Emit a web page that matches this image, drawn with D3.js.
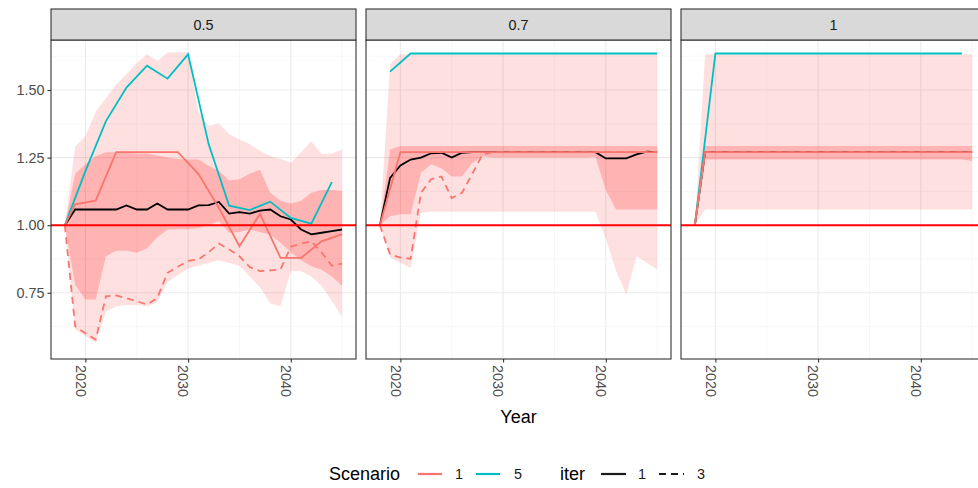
<!DOCTYPE html>
<html><head><meta charset="utf-8">
<script src="https://cdn.jsdelivr.net/npm/d3@7"></script>
<style>body{margin:0;background:#fff;}svg{display:block;font-family:"Liberation Sans",Arial,sans-serif;}</style>
</head><body><svg id="chart" width="978" height="488"></svg>
<script>
// ---------- data ----------
const years = [2018,2019,2020,2021,2022,2023,2024,2025,2026,2027,2028,2029,2030,2031,2032,2033,2034,2035,2036,2037,2038,2039,2040,2041,2042,2043,2044,2045];
const facets = ["0.5","0.7","1"];
const xTickVals = [2020,2030,2040];
const xTickLabels = ["2020","2030","2040"];
const yTickVals = [0.75,1.00,1.25,1.50];
const yTickLabels = ["0.75","1.00","1.25","1.50"];
const scenarios = ["1","5"];
const iters = ["1","3"];

// facet 0.5
const p05_black   = [1.0,1.058,1.058,1.058,1.058,1.058,1.073,1.058,1.058,1.08,1.058,1.058,1.058,1.073,1.074,1.086,1.043,1.048,1.043,1.054,1.058,1.033,1.021,0.984,0.966,0.972,0.978,0.984];
const p05_s5_it1  = [1.0,null,1.20,null,1.385,null,1.509,null,1.59,null,1.542,null,1.632,null,1.30,null,1.072,null,1.056,null,1.087,null,1.027,null,1.006,null,1.159,null];
const p05_s1_it1  = [1.0,1.077,null,1.091,null,1.27,null,1.27,null,1.27,null,1.27,null,1.19,null,1.064,null,0.922,null,1.042,null,0.879,null,0.879,null,0.94,null,0.967];
const p05_s1_it3  = [1.0,0.626,0.60,0.577,0.737,0.74,0.73,0.719,0.706,0.731,0.824,0.846,0.868,0.873,0.90,0.932,0.91,0.885,0.845,0.83,0.833,0.836,0.92,0.932,0.94,0.90,0.85,0.858];
const p05_outerHi = [1.0,1.29,1.33,1.42,1.47,1.52,1.558,1.60,1.632,1.607,1.638,1.64,1.64,1.42,1.367,1.377,1.336,1.317,1.30,1.274,1.256,1.245,1.231,1.27,1.311,1.262,1.265,1.28];
const p05_outerLo = [1.0,0.614,0.59,0.565,0.68,0.70,0.705,0.705,0.70,0.715,0.79,0.815,0.84,0.85,0.86,0.87,0.86,0.85,0.81,0.77,0.71,0.70,0.83,0.83,0.81,0.775,0.72,0.66];
const p05_innerHi = [1.0,1.19,1.225,1.255,1.27,1.27,1.268,1.265,1.265,1.258,1.25,1.245,1.243,1.243,1.22,1.20,1.165,1.17,1.19,1.205,1.12,1.09,1.08,1.09,1.12,1.13,1.13,1.126];
const p05_innerLo = [1.0,0.78,0.725,0.725,0.885,0.905,0.905,0.898,0.915,0.955,0.984,0.985,0.985,0.99,1.0,1.015,0.972,0.975,0.984,0.975,0.965,0.935,0.90,0.87,0.848,0.835,0.81,0.776];

// facet 0.7
const p07_black   = [1.0,1.175,1.221,1.243,1.25,1.266,1.268,1.25,1.268,1.27,1.27,1.27,1.27,1.27,1.27,1.27,1.27,1.27,1.27,1.27,1.27,1.27,1.247,1.247,1.247,1.262,1.272,1.27];
const p07_s5_it1  = [null,1.568,null,1.635,null,1.635,null,1.635,null,1.635,null,1.635,null,1.635,null,1.635,null,1.635,null,1.635,null,1.635,null,1.635,null,1.635,null,1.635];
const p07_s1_it1  = [1.0,null,1.27,1.27,1.27,1.27,1.27,1.27,1.27,1.27,1.27,1.27,1.27,1.27,1.27,1.27,1.27,1.27,1.27,1.27,1.27,1.27,1.27,1.27,1.27,1.27,1.27,1.27];
const p07_s1_it3  = [1.0,0.891,0.88,0.876,1.12,1.17,1.18,1.10,1.12,1.19,1.262,1.27,1.27,1.27,1.27,1.27,1.27,1.27,1.27,1.27,1.27,1.27,1.27,1.27,1.27,1.27,1.27,1.27];
const p07_outerHi = [1.0,1.595,1.632,1.632,1.632,1.632,1.632,1.632,1.632,1.632,1.632,1.632,1.632,1.632,1.632,1.632,1.632,1.632,1.632,1.632,1.632,1.632,1.632,1.632,1.632,1.632,1.632,1.632];
const p07_outerLo = [1.0,0.88,0.861,0.842,1.046,1.05,1.05,1.05,1.05,1.05,1.05,1.05,1.05,1.05,1.05,1.05,1.05,1.05,1.05,1.05,1.05,1.05,0.95,0.83,0.743,0.885,0.86,0.836];
const p07_innerHi = [1.0,1.28,1.293,1.293,1.293,1.293,1.293,1.293,1.293,1.293,1.293,1.293,1.293,1.293,1.293,1.293,1.293,1.293,1.293,1.293,1.293,1.293,1.293,1.293,1.293,1.293,1.293,1.293];
const p07_innerLo = [1.0,1.033,1.04,1.04,1.194,1.225,1.21,1.18,1.18,1.23,1.255,1.25,1.25,1.25,1.25,1.25,1.25,1.25,1.25,1.25,1.25,1.252,1.13,1.058,1.058,1.058,1.058,1.058];

// facet 1
const p1_black   = [1.0,1.27,1.27,1.27,1.27,1.27,1.27,1.27,1.27,1.27,1.27,1.27,1.27,1.27,1.27,1.27,1.27,1.27,1.27,1.27,1.27,1.27,1.27,1.27,1.27,1.27,1.27,1.27];
const p1_s5_it1  = [1.0,null,1.635,null,1.635,null,1.635,null,1.635,null,1.635,null,1.635,null,1.635,null,1.635,null,1.635,null,1.635,null,1.635,null,1.635,null,1.635,null];
const p1_s1_it1  = [1.0,1.27,1.27,1.27,1.27,1.27,1.27,1.27,1.27,1.27,1.27,1.27,1.27,1.27,1.27,1.27,1.27,1.27,1.27,1.27,1.27,1.27,1.27,1.27,1.27,1.27,1.27,1.27];
const p1_s1_it3  = [1.0,1.27,1.27,1.27,1.27,1.27,1.27,1.27,1.27,1.27,1.27,1.27,1.27,1.27,1.27,1.27,1.27,1.27,1.27,1.27,1.27,1.27,1.27,1.27,1.27,1.27,1.27,1.27];
const p1_outerHi = [1.0,1.632,1.632,1.632,1.632,1.632,1.632,1.632,1.632,1.632,1.632,1.632,1.632,1.632,1.632,1.632,1.632,1.632,1.632,1.632,1.632,1.632,1.632,1.632,1.632,1.632,1.632,1.632];
const p1_outerLo = [1.0,1.058,1.058,1.058,1.058,1.058,1.058,1.058,1.058,1.058,1.058,1.058,1.058,1.058,1.058,1.058,1.058,1.058,1.058,1.058,1.058,1.058,1.058,1.058,1.058,1.058,1.058,1.058];
const p1_innerHi = [1.0,1.293,1.293,1.293,1.293,1.293,1.293,1.293,1.293,1.293,1.293,1.293,1.293,1.293,1.293,1.293,1.293,1.293,1.293,1.293,1.293,1.293,1.293,1.293,1.293,1.293,1.293,1.293];
const p1_innerLo = [1.0,1.243,1.243,1.243,1.243,1.243,1.243,1.243,1.243,1.243,1.243,1.243,1.243,1.243,1.243,1.243,1.243,1.243,1.243,1.243,1.243,1.243,1.243,1.243,1.243,1.243,1.243,1.237];

const refValue = 1.0;

// ---------- assemble ----------
const panelData = [
  {black:p05_black, s5:p05_s5_it1, s1:p05_s1_it1, s1d:p05_s1_it3, oHi:p05_outerHi, oLo:p05_outerLo, iHi:p05_innerHi, iLo:p05_innerLo},
  {black:p07_black, s5:p07_s5_it1, s1:p07_s1_it1, s1d:p07_s1_it3, oHi:p07_outerHi, oLo:p07_outerLo, iHi:p07_innerHi, iLo:p07_innerLo},
  {black:p1_black,  s5:p1_s5_it1,  s1:p1_s1_it1,  s1d:p1_s1_it3,  oHi:p1_outerHi,  oLo:p1_outerLo,  iHi:p1_innerHi,  iLo:p1_innerLo}
];

const colS1 = "#F8766D", colS5 = "#00BFC4";
const svg = d3.select("#chart");
const panelLefts = [51, 366, 681];
const panelW = 305, panelTop = 40, panelBot = 359, stripTop = 9;

const x = d3.scaleLinear().domain([2016.65, 2046.35]).range([0, panelW]);
const y = d3.scaleLinear().domain([0.505, 1.685]).range([panelBot, panelTop]);
const xMinor = [2015,2025,2035,2045];
const yMinor = [0.625,0.875,1.125,1.375,1.625];

const pts = vals => years.map((yr,i)=>[yr, vals[i]]).filter(d=>d[1]!=null);
const line = d3.line().x(d=>x(d[0])).y(d=>y(d[1]));
const area = (lo,hi) => d3.area().x(d=>x(d.yr)).y0(d=>y(d.lo)).y1(d=>y(d.hi))(years.map((yr,i)=>({yr, lo:lo[i], hi:hi[i]})));

const defs = svg.append("defs");

facets.forEach((f, k) => {
  const d = panelData[k];
  const g = svg.append("g").attr("transform", `translate(${panelLefts[k]},0)`);
  defs.append("clipPath").attr("id","clip"+k).append("rect")
    .attr("x",0).attr("y",panelTop).attr("width",panelW).attr("height",panelBot-panelTop);
  const body = g.append("g").attr("clip-path", `url(#clip${k})`);
  body.append("rect").attr("x",0).attr("y",panelTop).attr("width",panelW).attr("height",panelBot-panelTop).attr("fill","#fff");
  // minor grid
  xMinor.forEach(v => body.append("line").attr("x1",x(v)).attr("x2",x(v)).attr("y1",panelTop).attr("y2",panelBot).attr("stroke","#F2F2F2").attr("stroke-width",0.6));
  yMinor.forEach(v => body.append("line").attr("x1",0).attr("x2",panelW).attr("y1",y(v)).attr("y2",y(v)).attr("stroke","#F2F2F2").attr("stroke-width",0.6));
  // major grid
  xTickVals.forEach(v => body.append("line").attr("x1",x(v)).attr("x2",x(v)).attr("y1",panelTop).attr("y2",panelBot).attr("stroke","#EBEBEB").attr("stroke-width",1.1));
  yTickVals.forEach(v => body.append("line").attr("x1",0).attr("x2",panelW).attr("y1",y(v)).attr("y2",y(v)).attr("stroke","#EBEBEB").attr("stroke-width",1.1));
  // ribbons
  body.append("path").attr("d", area(d.oLo, d.oHi)).attr("fill","#FF0000").attr("fill-opacity",0.12);
  body.append("path").attr("d", area(d.iLo, d.iHi)).attr("fill","#FF0000").attr("fill-opacity",0.2);
  // lines
  body.append("path").attr("d", line(pts(d.black))).attr("fill","none").attr("stroke","#000").attr("stroke-width",1.8);
  body.append("path").attr("d", line(pts(d.s5))).attr("fill","none").attr("stroke",colS5).attr("stroke-width",1.8);
  body.append("path").attr("d", line(pts(d.s1d))).attr("fill","none").attr("stroke",colS1).attr("stroke-width",1.8).attr("stroke-dasharray","7,5");
  body.append("path").attr("d", line(pts(d.s1))).attr("fill","none").attr("stroke",colS1).attr("stroke-width",1.8);
  // reference line
  body.append("line").attr("x1",0).attr("x2",panelW).attr("y1",y(refValue)).attr("y2",y(refValue)).attr("stroke","#FF0000").attr("stroke-width",2);
  // border
  g.append("rect").attr("x",0).attr("y",panelTop).attr("width",panelW).attr("height",panelBot-panelTop).attr("fill","none").attr("stroke","#333").attr("stroke-width",1.1);
  // strip
  g.append("rect").attr("x",0).attr("y",stripTop).attr("width",panelW).attr("height",panelTop-stripTop).attr("fill","#D9D9D9").attr("stroke","#333").attr("stroke-width",1.1);
  g.append("text").attr("x",panelW/2).attr("y",(stripTop+panelTop)/2).attr("dy","0.36em").attr("text-anchor","middle")
    .attr("font-size",14.4).attr("fill","#1A1A1A").text(f);
  // x axis
  const xa = d3.axisBottom(x).tickValues(xTickVals).tickFormat((v,i)=>xTickLabels[i]).tickSize(3.5).tickPadding(2);
  const ga = g.append("g").attr("transform",`translate(0,${panelBot})`).call(xa);
  ga.select(".domain").remove();
  ga.selectAll(".tick line").attr("stroke","#333").attr("stroke-width",1.1);
  ga.selectAll(".tick text").attr("font-size",14.4).attr("fill","#4D4D4D").attr("font-family","Liberation Sans, Arial, sans-serif")
    .attr("text-anchor","start").attr("transform","rotate(90)").attr("x",6).attr("y",0).attr("dy","0.72em");
});

// y axis (left panel only)
const ya = d3.axisLeft(y).tickValues(yTickVals).tickFormat((v,i)=>yTickLabels[i]).tickSize(3.5).tickPadding(3);
const gy = svg.append("g").attr("transform",`translate(${panelLefts[0]},0)`).call(ya);
gy.select(".domain").remove();
gy.selectAll(".tick line").attr("stroke","#333").attr("stroke-width",1.1);
gy.selectAll(".tick text").attr("font-size",14.4).attr("fill","#4D4D4D").attr("font-family","Liberation Sans, Arial, sans-serif");

// axis title
svg.append("text").attr("x",518.5).attr("y",423).attr("text-anchor","middle").attr("font-size",18).attr("fill","#000").text("Year");

// legend
const ly = 474;
const leg = svg.append("g");
leg.append("text").attr("x",329).attr("y",ly).attr("dy","0.36em").attr("font-size",18).text("Scenario");
const sKeys = [{x1:418, tx:455, c:colS1, lab:scenarios[0]}, {x1:476, tx:514, c:colS5, lab:scenarios[1]}];
sKeys.forEach(k => {
  leg.append("line").attr("x1",k.x1).attr("x2",k.x1+24).attr("y1",ly).attr("y2",ly).attr("stroke",k.c).attr("stroke-width",2.2);
  leg.append("text").attr("x",k.tx).attr("y",ly).attr("dy","0.36em").attr("font-size",14.4).attr("fill","#1A1A1A").text(k.lab);
});
leg.append("text").attr("x",560).attr("y",ly).attr("dy","0.36em").attr("font-size",18).text("iter");
const iKeys = [{x1:601, tx:638, dash:null, lab:iters[0]}, {x1:659, tx:697, dash:"7,5", lab:iters[1]}];
iKeys.forEach(k => {
  const l = leg.append("line").attr("x1",k.x1).attr("x2",k.x1+25).attr("y1",ly).attr("y2",ly).attr("stroke","#1A1A1A").attr("stroke-width",2.2);
  if (k.dash) l.attr("stroke-dasharray",k.dash);
  leg.append("text").attr("x",k.tx).attr("y",ly).attr("dy","0.36em").attr("font-size",14.4).attr("fill","#1A1A1A").text(k.lab);
});
</script></body></html>
